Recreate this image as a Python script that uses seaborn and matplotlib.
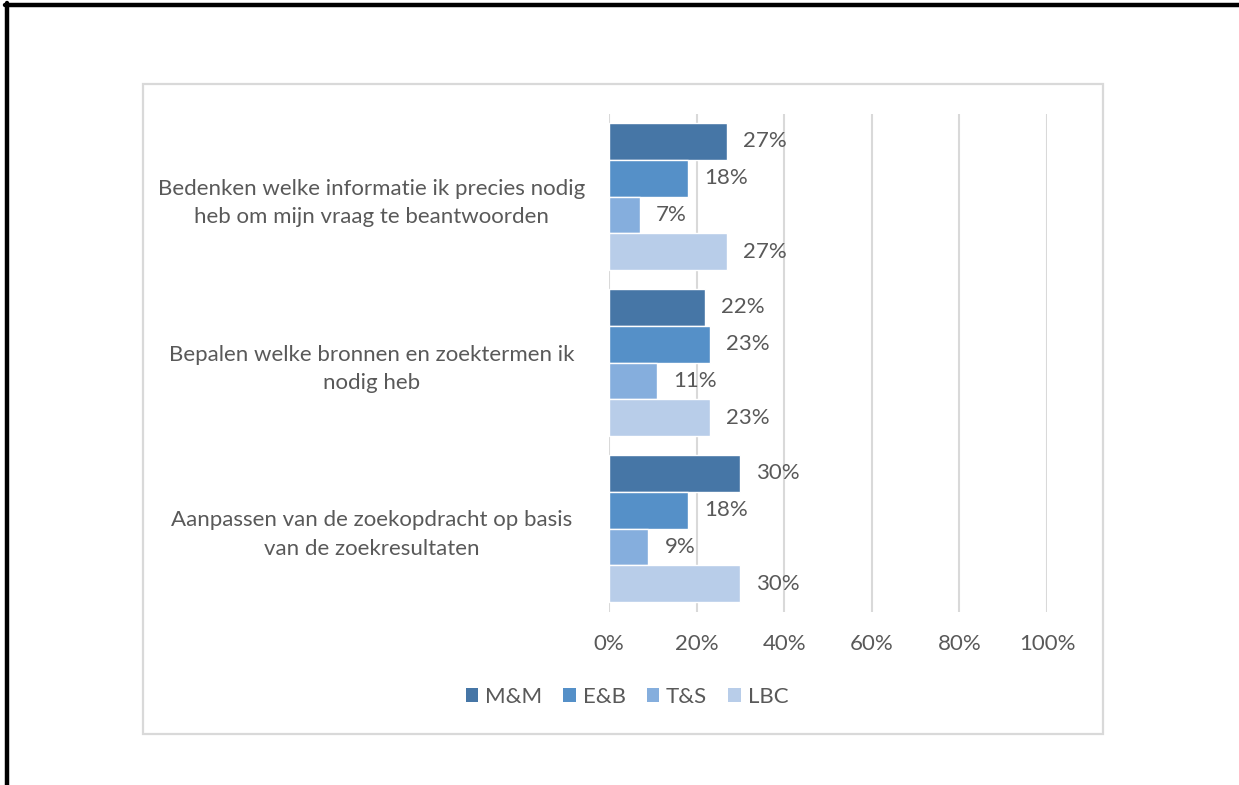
import matplotlib
matplotlib.use("Agg")
import matplotlib.pyplot as plt
from matplotlib.patches import Rectangle, Patch
from matplotlib.lines import Line2D
import seaborn as sns
import pandas as pd

# Survey items (one per row group) and the four programmes
categories = [
    "Bedenken welke informatie ik precies nodig\nheb om mijn vraag te beantwoorden",
    "Bepalen welke bronnen en zoektermen ik\nnodig heb",
    "Aanpassen van de zoekopdracht op basis\nvan de zoekresultaten",
]
series = ["M&M", "E&B", "T&S", "LBC"]
values_mm = [27, 22, 30]
values_eb = [18, 23, 18]
values_ts = [7, 11, 9]
values_lbc = [27, 23, 30]
x_ticks = [0, 20, 40, 60, 80, 100]
x_tick_labels = ["0%", "20%", "40%", "60%", "80%", "100%"]
colors = ["#4676A6", "#5590C8", "#85AEDD", "#B8CDE9"]

rows = []
for name, vals in zip(series, [values_mm, values_eb, values_ts, values_lbc]):
    for cat, v in zip(categories, vals):
        rows.append({"item": cat, "programme": name, "pct": v})
df = pd.DataFrame(rows)

sns.set_theme(style="white")
plt.rcParams["font.family"] = ["Lato", "DejaVu Sans"]
text_color = "#595959"
grid_color = "#D9D9D9"
fs = 16

W, H = 1239, 785
fig = plt.figure(figsize=(W / 100, H / 100), dpi=100)
fig.patch.set_facecolor("white")

# Outer black frame (top and left edges) and inner light chart border
fig.add_artist(Line2D([5 / W, 1.0], [1 - 4.5 / H, 1 - 4.5 / H], color="black", lw=3.2))
fig.add_artist(Line2D([6.5 / W, 6.5 / W], [0.0, 1 - 3 / H], color="black", lw=3.2))
fig.add_artist(Rectangle((143 / W, 1 - 734 / H), 960 / W, 650 / H, fill=False,
                         edgecolor=grid_color, lw=1.6, transform=fig.transFigure))

ax = fig.add_axes([609 / W, 1 - 611.5 / H, 438 / W, 498 / H])
sns.barplot(data=df, y="item", x="pct", hue="programme", hue_order=series,
            order=categories, palette=colors, orient="h", width=0.886,
            dodge=True, saturation=1, legend=False, ax=ax)

ax.set_xlim(0, 100)
ax.set_ylim(2.5, -0.5)
ax.set_xticks(x_ticks)
ax.set_xticklabels(x_tick_labels)
ax.set_xlabel("")
ax.set_ylabel("")
for s in ax.spines.values():
    s.set_visible(False)
ax.grid(False)
for t in x_ticks:
    ax.axvline(t, color=grid_color, lw=1.5, zorder=0)

ax.tick_params(axis="x", length=0, pad=16, labelsize=fs, labelcolor=text_color)
ax.tick_params(axis="y", length=0, pad=171, labelsize=fs, labelcolor=text_color)
for lbl in ax.get_yticklabels():
    lbl.set_horizontalalignment("center")
    lbl.set_multialignment("center")
    lbl.set_linespacing(1.55)

for cont in ax.containers:
    ax.bar_label(cont, fmt="{:.0f}%", padding=11.5, fontsize=fs, color=text_color)

handles = [Patch(facecolor=c, edgecolor="none") for c in colors]
fig.legend(handles, series, loc="center", bbox_to_anchor=(627 / W, 1 - 697 / H),
           ncol=4, frameon=False, fontsize=fs, labelcolor=text_color,
           handlelength=0.55, handleheight=0.55, handletextpad=0.32, columnspacing=0.95)

fig.savefig("out.png", dpi=100, facecolor="white")
